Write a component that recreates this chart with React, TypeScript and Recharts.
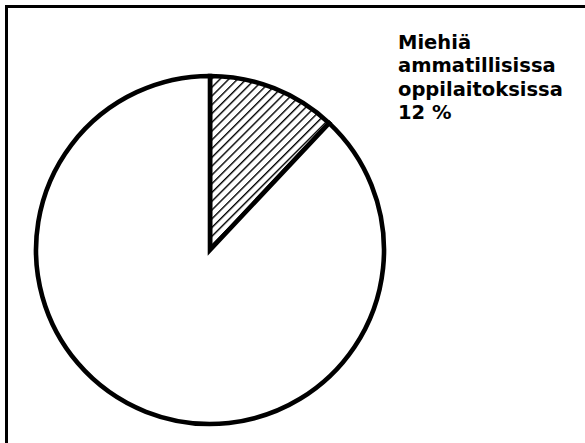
import { PieChart, Pie, Cell } from "recharts";

const categories = ["Miehiä ammatillisissa oppilaitoksissa", "Muut"];
const shares = [12, 88];
const labelLines = ["Miehiä", "ammatillisissa", "oppilaitoksissa", "12 %"];

const data = categories.map((name, i) => ({ name, value: shares[i] }));

export default function App() {
  return (
    <div style={{ position: "absolute", left: 0, top: 0, width: 585, height: 443, background: "#fff" }}>
      {/* frame: only top and left edges show */}
      <div style={{ position: "absolute", left: 5, top: 5, width: 580, height: 438, borderTop: "3px solid #000", borderLeft: "3px solid #000" }} />
      <PieChart width={585} height={443} margin={{ top: 0, right: 0, bottom: 0, left: 0 }} style={{ position: "absolute", left: 0, top: 0 }}>
        <defs>
          <pattern id="hatch" width={6.2} height={6.2} patternUnits="userSpaceOnUse" patternTransform="rotate(45)">
            <line x1={0} y1={0} x2={0} y2={6.2} stroke="#000" strokeWidth={2.8} />
          </pattern>
        </defs>
        <Pie
          data={data}
          dataKey="value"
          cx={210}
          cy={250}
          outerRadius={174}
          startAngle={90}
          endAngle={-270}
          stroke="#000"
          strokeWidth={4.6}
          isAnimationActive={false}
          labelLine={false}
        >
          {data.map((d, i) => (
            <Cell key={d.name} fill={i === 0 ? "url(#hatch)" : "#fff"} />
          ))}
        </Pie>
      </PieChart>
      <svg width={585} height={443} style={{ position: "absolute", left: 0, top: 0 }}>
        {labelLines.map((t, i) => (
          <text key={t} x={398} y={49 + i * 23.3} fontFamily="'DejaVu Sans', sans-serif" fontWeight={700} fontSize={19.5} fill="#000">
            {t}
          </text>
        ))}
      </svg>
    </div>
  );
}
